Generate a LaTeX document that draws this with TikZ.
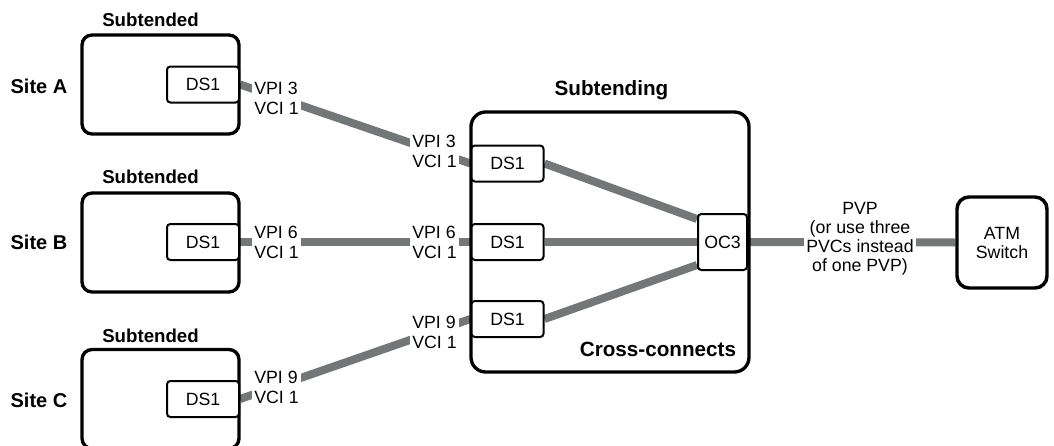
\documentclass[tikz,border=0pt]{standalone}
\usepackage{fontspec}
\setmainfont{Liberation Sans}
\usetikzlibrary{calc,backgrounds}
\definecolor{linkgray}{RGB}{115,119,119}

\begin{document}
\begin{tikzpicture}[x=0.75pt,y=-0.75pt,
  sitebox/.style={draw, line width=2.5pt, rounded corners=7.5pt, fill=white,
    minimum width=117.75pt, minimum height=74.25pt, inner sep=0pt},
  hubbox/.style={draw, line width=2.5pt, rounded corners=11pt,
    minimum width=208.5pt, minimum height=195pt, inner sep=0pt},
  port/.style={draw, line width=1.5pt, rounded corners=2.5pt, fill=white,
    minimum width=54pt, minimum height=27pt, inner sep=0pt,
    font=\fontsize{13.3}{15}\selectfont},
  link/.style={draw=linkgray, line width=6pt},
  vc/.style={fill=white, inner sep=2pt, align=left,
    font=\fontsize{13.3}{15}\selectfont},
  heading/.style={anchor=base, font=\bfseries\fontsize{14}{16}\selectfont},
  sitename/.style={anchor=base, font=\bfseries\fontsize{15}{17}\selectfont},
]
\useasboundingbox (0,0) rectangle (1054,446);

% subtended sites
\node[sitebox] (siteA) at (160.5,84.5) {};
\node[sitebox] (siteB) at (160.5,242.5) {};
\node[sitebox] (siteC) at (160.5,399) {};
\node[port] (dsA) at (203,84.5) {DS1};
\node[port] (dsB) at (203,242) {DS1};
\node[port] (dsC) at (203,399) {DS1};

\node[heading] (hdA) at (150.5,26.5) {Subtended};
\node[heading] (hdB) at (150.5,183.3) {Subtended};
\node[heading] (hdC) at (150.5,342.7) {Subtended};
\node[sitename] (nmA) at (39,93.3) {Site A};
\node[sitename] (nmB) at (39,249.3) {Site B};
\node[sitename] (nmC) at (39,407.3) {Site C};

% subtending node with its cross-connects
\node[hubbox] (hub) at (610,242) {};
\node[heading, font=\bfseries\fontsize{15.5}{17}\selectfont] (hubtitle) at (611.5,95.5) {Subtending};
\node[heading, font=\bfseries\fontsize{15.5}{17}\selectfont] (xc) at (658,356.7) {Cross-connects};
\node[port] (hubA) at (507.5,163.5) {DS1};
\node[port] (hubB) at (507.5,242) {DS1};
\node[port] (hubC) at (507.5,319) {DS1};
\node[port, minimum width=36.75pt, minimum height=42pt] (oc3) at (722.5,242) {OC3};

% upstream ATM switch
\node[draw, line width=2.6pt, rounded corners=9pt, minimum width=67.5pt,
  minimum height=68.25pt, inner sep=0pt, align=center,
  font=\fontsize{13.3}{14.25}\selectfont] (atm) at (1002,242.5) {ATM\\Switch};

% trunk links
\begin{scope}[on background layer]
  \draw[link] (dsA.east) -- (hubA.west);
  \draw[link] (dsB.east) -- (hubB.west);
  \draw[link] (dsC.east) -- (hubC.west);
  \draw[link] (hubA.east) -- ($(oc3.west)+(0,-23)$);
  \draw[link] (hubB.east) -- (oc3.west);
  \draw[link] (hubC.east) -- ($(oc3.west)+(0,23)$);
  \draw[link] (oc3.east) -- (atm.west);
\end{scope}

% VPI/VCI labels on the links
\node[vc] (vcA1) at (276.5,98) {VPI 3\\VCI 1};
\node[vc] (vcA2) at (434.5,151.5) {VPI 3\\VCI 1};
\node[vc] (vcB1) at (276.5,242) {VPI 6\\VCI 1};
\node[vc] (vcB2) at (434.5,242) {VPI 6\\VCI 1};
\node[vc] (vcC1) at (276.5,387.5) {VPI 9\\VCI 1};
\node[vc] (vcC2) at (434.5,332.5) {VPI 9\\VCI 1};
\node[vc, align=center, font=\fontsize{13.3}{14.25}\selectfont] (pvp) at (860,238.5)
  {PVP\\(or use three\\PVCs instead\\of one PVP)};
\end{tikzpicture}
\end{document}
